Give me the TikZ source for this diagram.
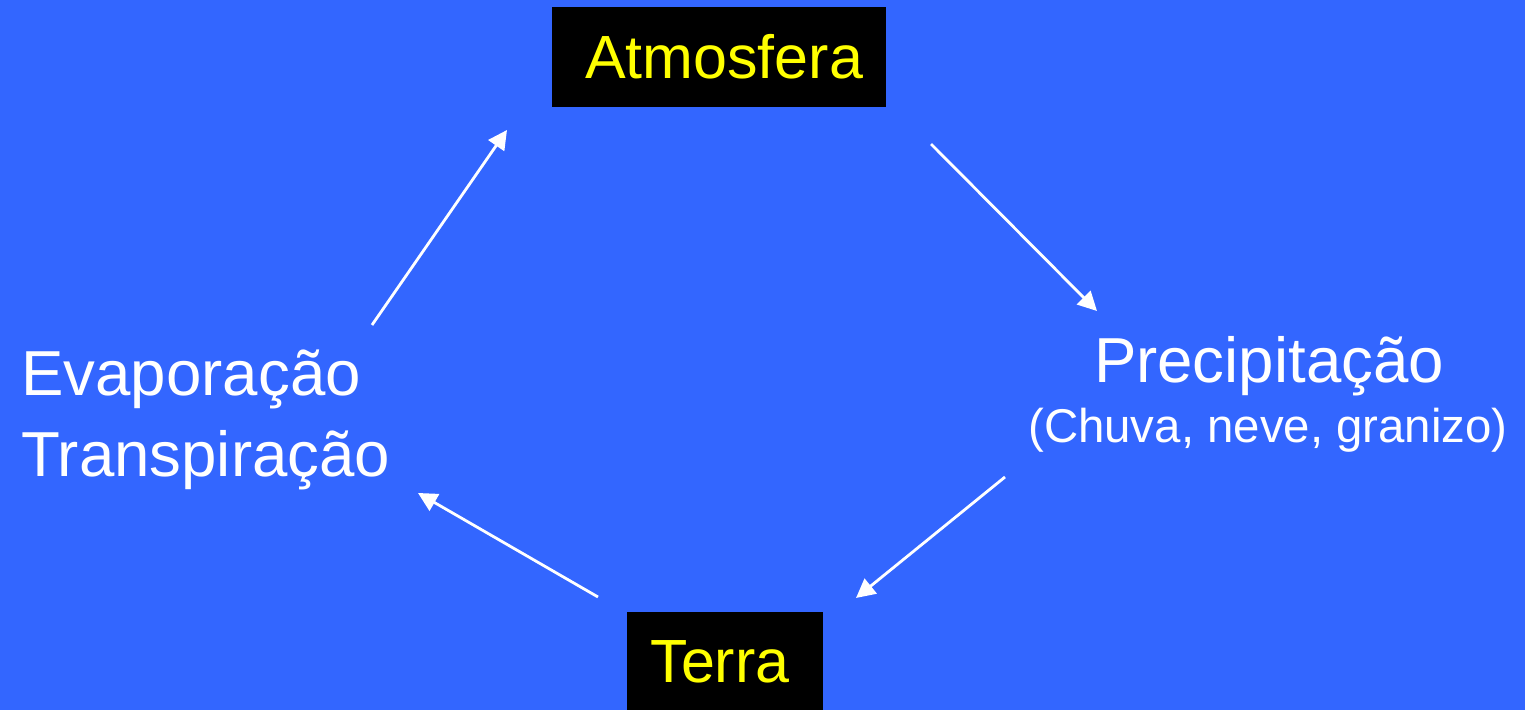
\documentclass[tikz,border=0pt]{standalone}
\usepackage{fontspec}
\setmainfont{Liberation Sans}
\usetikzlibrary{arrows.meta}
\definecolor{bgblue}{HTML}{3366FF}
\definecolor{labyellow}{HTML}{FFFF00}
\tikzset{
  boxlabel/.style={fill=black, text=labyellow, inner sep=0pt, font=\fontsize{30.5pt}{36pt}\selectfont},
  freelabel/.style={text=white, inner sep=0pt},
  flow/.style={white, line width=1.4pt, -{Triangle[length=9.5pt,width=9.5pt]}}
}
\begin{document}
\begin{tikzpicture}[x=0.5pt,y=-0.5pt]
\fill[bgblue] (0,0) rectangle (1525,710);
\useasboundingbox (0,0) rectangle (1525,710);
\node[boxlabel, minimum width=167pt, minimum height=50pt] (atm) at (719,57) {\hspace*{5pt}Atmosfera};
\node[boxlabel, minimum width=98pt, minimum height=50pt] (terra) at (725,662) {Terra\hspace*{5pt}};
\node[freelabel, anchor=base west, align=left, font=\fontsize{31.8pt}{40.5pt}\selectfont] (evap) at (21,477) {Evaporação\\Transpiração};
\node[freelabel, anchor=base, font=\fontsize{31.8pt}{37pt}\selectfont] (prec) at (1269,383) {Precipitação};
\node[freelabel, anchor=base, font=\fontsize{23.7pt}{28pt}\selectfont] (precsub) at (1268,443) {(Chuva, neve, granizo)};
\coordinate (a1s) at (372,325);
\coordinate (a1e) at (507,130);
\coordinate (a2s) at (931,144);
\coordinate (a2e) at (1097,311);
\coordinate (a3s) at (1005,477);
\coordinate (a3e) at (856,598);
\coordinate (a4s) at (598,597);
\coordinate (a4e) at (418,493);
\draw[flow] (a1s) -- (a1e);
\draw[flow] (a2s) -- (a2e);
\draw[flow] (a3s) -- (a3e);
\draw[flow] (a4s) -- (a4e);
\end{tikzpicture}
\end{document}
